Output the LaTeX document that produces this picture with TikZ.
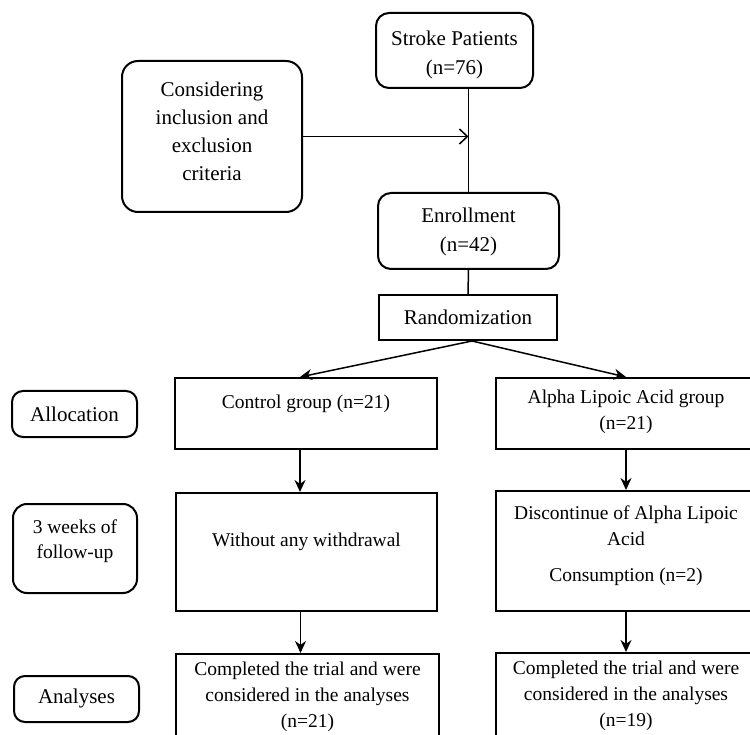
\documentclass[tikz,border=0pt]{standalone}
\usepackage{fontspec}
\setmainfont{Liberation Serif}
\usetikzlibrary{arrows.meta}
\tikzset{
  sqbox/.style={draw, line width=2pt, rectangle, inner sep=0pt},
  rbox/.style={draw, line width=2pt, rectangle, rounded corners=13pt, inner sep=0pt},
  txt/.style={inner sep=0pt, align=center, font=\fontsize{19.5}{26}\selectfont},
  bigtxt/.style={inner sep=0pt, align=center, font=\fontsize{21}{29}\selectfont},
  conn/.style={line width=1.5pt},
  arr/.style={line width=1.5pt, -{Stealth[length=12pt,width=11pt]}},
  openarr/.style={line width=1.5pt, -{Straight Barb[length=8pt,width=15pt,line width=1.5pt]}}
}
\begin{document}
\begin{tikzpicture}[x=1pt,y=-1pt]
\clip (0,0) rectangle (750,735);
\fill[white] (0,0) rectangle (750,735);
% top part
\node[rbox, minimum width=157pt, minimum height=75pt] (stroke) at (454.5,50.5) {};
\node[bigtxt] (strokeT) at (454.5,55) {Stroke Patients\\(n=76)};
\node[rbox, rounded corners=16pt, minimum width=180pt, minimum height=151pt] (consider) at (212,136.5) {};
\node[bigtxt, font=\fontsize{21}{28}\selectfont] (considerT) at (212,131) {Considering\\inclusion and\\exclusion\\criteria};
\node[rbox, minimum width=181pt, minimum height=76pt] (enroll) at (468.5,231) {};
\node[bigtxt] (enrollT) at (468.5,232) {Enrollment\\(n=42)};
\node[sqbox, minimum width=178pt, minimum height=45pt] (rand) at (468,317.5) {};
\node[bigtxt] (randT) at (468,317) {Randomization};
\coordinate (join) at (enroll.north |- stroke.south);
\coordinate (hit) at (consider.east -| enroll.north);
\draw[conn] (join) -- (enroll.north);
\draw[openarr] (consider.east) -- (hit);
\draw[conn] (enroll.south) -- (rand.north);
% side labels
\node[rbox, rounded corners=11pt, minimum width=125pt, minimum height=46pt] (alloc) at (74.5,414) {};
\node[bigtxt] (allocT) at (74.5,414) {Allocation};
\node[rbox, rounded corners=14pt, minimum width=124pt, minimum height=89pt] (weeks) at (75,548.5) {};
\node[txt, font=\fontsize{19.5}{25}\selectfont] (weeksT) at (75,541) {3 weeks of\\follow-up};
\node[rbox, rounded corners=11pt, minimum width=125pt, minimum height=46pt] (analyses) at (76.5,699) {};
\node[bigtxt] (analysesT) at (76.5,698) {Analyses};
% groups
\node[sqbox, minimum width=262pt, minimum height=71pt] (ctrl) at (306,413.5) {};
\node[txt] (ctrlT) at (306,404) {Control group (n=21)};
\node[sqbox, minimum width=260pt, minimum height=71pt] (alpha) at (626,413.5) {};
\node[txt] (alphaT) at (626,412) {Alpha Lipoic Acid group\\(n=21)};
\node[sqbox, minimum width=261pt, minimum height=118pt] (without) at (306.5,552) {};
\node[txt] (withoutT) at (306.5,542) {Without any withdrawal};
\node[sqbox, minimum width=260pt, minimum height=120pt] (discont) at (626,551) {};
\node[txt] (discontT) at (626,526) {Discontinue of Alpha Lipoic\\Acid};
\node[txt] (discontT2) at (626,577) {Consumption (n=2)};
\node[sqbox, minimum width=263pt, minimum height=106pt] (comp1) at (307.5,707) {};
\node[txt, anchor=north] (comp1T) at (307.5,662) {Completed the trial and were\\considered in the analyses\\(n=21)};
\node[sqbox, minimum width=260pt, minimum height=107pt] (comp2) at (626,706.5) {};
\node[txt, anchor=north] (comp2T) at (626,661) {Completed the trial and were\\considered in the analyses\\(n=19)};
% arrows
\draw[arr] ([xshift=4pt]rand.south) -- ([xshift=-6pt]ctrl.north);
\draw[arr] ([xshift=4pt]rand.south) -- (alpha.north);
\draw[arr] ([xshift=-6pt]ctrl.south) -- ([xshift=-6pt]ctrl.south |- without.north);
\draw[arr] (alpha.south) -- (alpha.south |- discont.north);
\draw[arr] ([xshift=-6pt]without.south) -- ([xshift=-6pt]without.south |- comp1.north);
\draw[arr] (discont.south) -- (discont.south |- comp2.north);
\end{tikzpicture}
\end{document}
